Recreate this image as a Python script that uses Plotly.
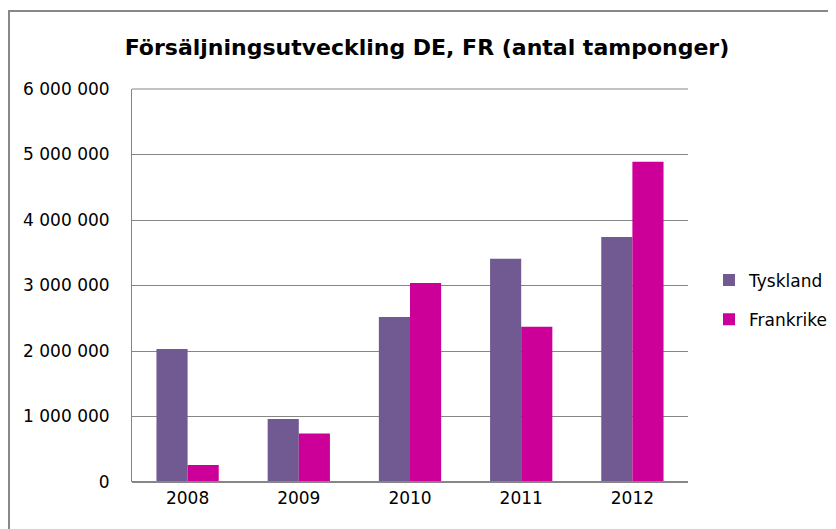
import plotly.graph_objects as go

years = ["2008", "2009", "2010", "2011", "2012"]
tyskland = [2030000, 960000, 2520000, 3410000, 3740000]
frankrike = [260000, 740000, 3040000, 2370000, 4890000]
ytick_vals = [0, 1000000, 2000000, 3000000, 4000000, 5000000, 6000000]
ytick_text = ["0", "1 000 000", "2 000 000", "3 000 000", "4 000 000", "5 000 000", "6 000 000"]

OFF = 8  # page body margin
W, H = 836 - OFF, 529 - OFF
L, R, T, B = 132 - OFF, 688 - OFF, 89 - OFF, 482 - OFF
pw, ph = R - L, B - T


def px(x):
    return (x - OFF - L) / pw


def py(y):
    return (B - (y - OFF)) / ph


fig = go.Figure()
fig.add_trace(go.Bar(x=years, y=tyskland, name="Tyskland", marker_color="#715A91",
                     marker_line_width=0, legendgroup="a"))
fig.add_trace(go.Bar(x=years, y=frankrike, name="Frankrike", marker_color="#CC0099",
                     marker_line_width=0, legendgroup="b"))

fig.update_layout(
    width=W, height=H,
    margin=dict(l=L, r=W - R, t=T, b=H - B, autoexpand=False),
    paper_bgcolor="white", plot_bgcolor="white",
    barmode="group", bargap=0.44, bargroupgap=0,
    font=dict(family="DejaVu Sans", size=17, color="#000000"),
    title=dict(text="<b>Försäljningsutveckling DE, FR (antal tamponger)</b>",
               font=dict(family="DejaVu Sans", size=22, color="#000000"),
               x=px(427), xref="paper", xanchor="center",
               y=1 - (47 - OFF) / H, yref="container", yanchor="middle"),
    xaxis=dict(showgrid=False, showline=False, ticks="", tickfont=dict(size=17),
               ticklabelstandoff=4),
    yaxis=dict(range=[0, 6000000], tickvals=ytick_vals, ticktext=ytick_text,
               showgrid=True, gridcolor="#868686", gridwidth=1,
               zeroline=False, showline=True, linecolor="#868686", linewidth=1,
               ticks="", ticklabelstandoff=18, tickfont=dict(size=17)),
    legend=dict(x=px(709), xanchor="left", y=py(300), yanchor="middle",
                traceorder="grouped", tracegroupgap=14,
                font=dict(size=17), bgcolor="rgba(0,0,0,0)"),
    showlegend=True,
    shapes=[
        dict(type="rect", xref="paper", yref="paper",
             x0=px(9), x1=px(860), y0=py(560), y1=py(11),
             line=dict(color="#888888", width=2), fillcolor="rgba(0,0,0,0)", layer="below"),
        dict(type="line", xref="paper", yref="paper",
             x0=0, x1=1, y0=0, y1=0, line=dict(color="#868686", width=2)),
        dict(type="line", xref="paper", yref="paper",
             x0=0, x1=1, y0=1, y1=1, line=dict(color="#868686", width=1)),
    ],
)

fig.write_html("out.html")
